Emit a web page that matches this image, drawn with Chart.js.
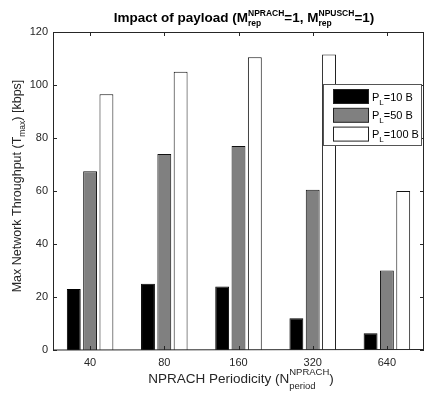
<!DOCTYPE html>
<html>
<head>
<meta charset="utf-8">
<script src="https://cdn.jsdelivr.net/npm/chart.js@4/dist/chart.umd.min.js"></script>
<style>
html,body{margin:0;padding:0;background:#fff;}
#wrap{position:relative;width:425px;height:394px;}
</style>
</head>
<body>
<div id="wrap"><canvas id="c" width="425" height="394"></canvas></div>
<script>
const categories = ['40', '80', '160', '320', '640'];
const seriesNames = ['10 B', '50 B', '100 B'];
const pl10 = [23, 25, 24, 12, 6.3];
const pl50 = [67.5, 74, 77, 60.5, 30];
const pl100 = [96.5, 105, 110.5, 111.5, 60];
const yTicks = [0, 20, 40, 60, 80, 100, 120];

const FONT = '"Liberation Sans", Arial, Helvetica, sans-serif';
const fills = ['#000000', '#808080', '#ffffff'];
const AX = '#262626';

function drawRich(ctx, segs, x, y, align) {
  let total = 0;
  const widths = segs.map(s => {
    ctx.font = (s.bold ? 'bold ' : '') + s.size + 'px ' + FONT;
    if (s.stack) {
      return Math.max(ctx.measureText(s.sup || '').width, ctx.measureText(s.sub || '').width);
    }
    return ctx.measureText(s.t).width;
  });
  widths.forEach(w => total += w);
  let cx = align === 'center' ? x - total / 2 : x;
  ctx.textAlign = 'left';
  ctx.textBaseline = 'alphabetic';
  segs.forEach((s, i) => {
    ctx.font = (s.bold ? 'bold ' : '') + s.size + 'px ' + FONT;
    if (s.stack) {
      if (s.sup) ctx.fillText(s.sup, cx, y + s.supDy);
      if (s.sub) ctx.fillText(s.sub, cx, y + s.subDy);
    } else {
      ctx.fillText(s.t, cx, y + (s.dy || 0));
    }
    cx += widths[i];
  });
}

const decor = {
  id: 'decor',
  afterDraw(chart) {
    const ctx = chart.ctx;
    const a = chart.chartArea;
    const xs = chart.scales.x, ys = chart.scales.y;
    ctx.save();
    ctx.strokeStyle = AX;
    ctx.lineWidth = 1;
    ctx.beginPath();
    ctx.moveTo(a.left + 0.5, a.top + 0.5);
    ctx.lineTo(a.right - 0.5, a.top + 0.5);
    ctx.lineTo(a.right - 0.5, a.bottom);
    ctx.moveTo(a.left + 0.5, a.top);
    ctx.lineTo(a.left + 0.5, a.bottom);
    ctx.lineTo(a.right, a.bottom - 0.5);
    ctx.stroke();
    ctx.beginPath();
    categories.forEach((c, i) => {
      const px = Math.round(xs.getPixelForValue(i)) + 0.5;
      ctx.moveTo(px, a.bottom); ctx.lineTo(px, a.bottom - 4);
      ctx.moveTo(px, a.top); ctx.lineTo(px, a.top + 4);
    });
    yTicks.forEach(v => {
      const py = Math.round(ys.getPixelForValue(v)) + 0.5;
      ctx.moveTo(a.left, py); ctx.lineTo(a.left + 4, py);
      ctx.moveTo(a.right, py); ctx.lineTo(a.right - 4, py);
    });
    ctx.stroke();

    ctx.fillStyle = '#000';
    drawRich(ctx, [
      {t: 'Impact of payload (M', size: 13.5, bold: true},
      {stack: true, sup: 'NPRACH', sub: 'rep', size: 8.5, bold: true, supDy: -6, subDy: 4},
      {t: '=1, M', size: 13.5, bold: true},
      {stack: true, sup: 'NPUSCH', sub: 'rep', size: 8.5, bold: true, supDy: -6, subDy: 4},
      {t: '=1)', size: 13.5, bold: true}
    ], 244, 22, 'center');

    ctx.fillStyle = AX;
    drawRich(ctx, [
      {t: 'NPRACH Periodicity (N', size: 13.5},
      {stack: true, sup: 'NPRACH', sub: 'period', size: 9.5, supDy: -8, subDy: 6},
      {t: ')', size: 13.5}
    ], 241, 383, 'center');

    ctx.save();
    ctx.translate(21, 186);
    ctx.rotate(-Math.PI / 2);
    drawRich(ctx, [
      {t: 'Max Network Throughput (T', size: 12.5},
      {t: 'max', size: 8.5, dy: 4},
      {t: ') [kbps]', size: 12.5}
    ], 0, 0, 'center');
    ctx.restore();

    const lx = 323.5, ly = 84.5, lw = 98, lh = 61;
    ctx.fillStyle = '#fff';
    ctx.fillRect(lx, ly, lw, lh);
    ctx.strokeStyle = '#555';
    ctx.strokeRect(lx, ly, lw, lh);
    seriesNames.forEach((n, i) => {
      const sy = 89.5 + i * 18.8;
      ctx.fillStyle = fills[i];
      ctx.fillRect(333.5, sy, 35, 14);
      ctx.strokeStyle = '#222';
      ctx.strokeRect(333.5, sy, 35, 14);
      ctx.fillStyle = '#000';
      drawRich(ctx, [
        {t: 'P', size: 11},
        {t: 'L', size: 8, dy: 4},
        {t: '=' + n, size: 11}
      ], 372, sy + 11, 'left');
    });
    ctx.restore();
  }
};

new Chart(document.getElementById('c'), {
  type: 'bar',
  data: {
    labels: categories,
    datasets: [
      {label: 'P_L=' + seriesNames[0], data: pl10, backgroundColor: fills[0], borderColor: '#000', borderWidth: 1},
      {label: 'P_L=' + seriesNames[1], data: pl50, backgroundColor: fills[1], borderColor: '#111', borderWidth: 1},
      {label: 'P_L=' + seriesNames[2], data: pl100, backgroundColor: fills[2], borderColor: '#111', borderWidth: 1}
    ]
  },
  plugins: [decor],
  options: {
    responsive: false,
    animation: false,
    devicePixelRatio: 1,
    layout: {padding: {left: 0, right: 1, top: 32, bottom: 0}},
    plugins: {legend: {display: false}, title: {display: false}, tooltip: {enabled: false}},
    datasets: {bar: {categoryPercentage: 0.66, barPercentage: 0.85}},
    scales: {
      x: {
        offset: true,
        grid: {display: false, drawTicks: false},
        border: {display: false},
        ticks: {font: {family: FONT, size: 11}, color: AX, padding: 6, maxRotation: 0},
        afterFit(s) { s.height = 44; }
      },
      y: {
        min: 0, max: 120,
        grid: {display: false, drawTicks: false},
        border: {display: false},
        ticks: {stepSize: 20, font: {family: FONT, size: 11}, color: AX, padding: 5},
        afterFit(s) { s.width = 53; }
      }
    }
  }
});
</script>
</body>
</html>
